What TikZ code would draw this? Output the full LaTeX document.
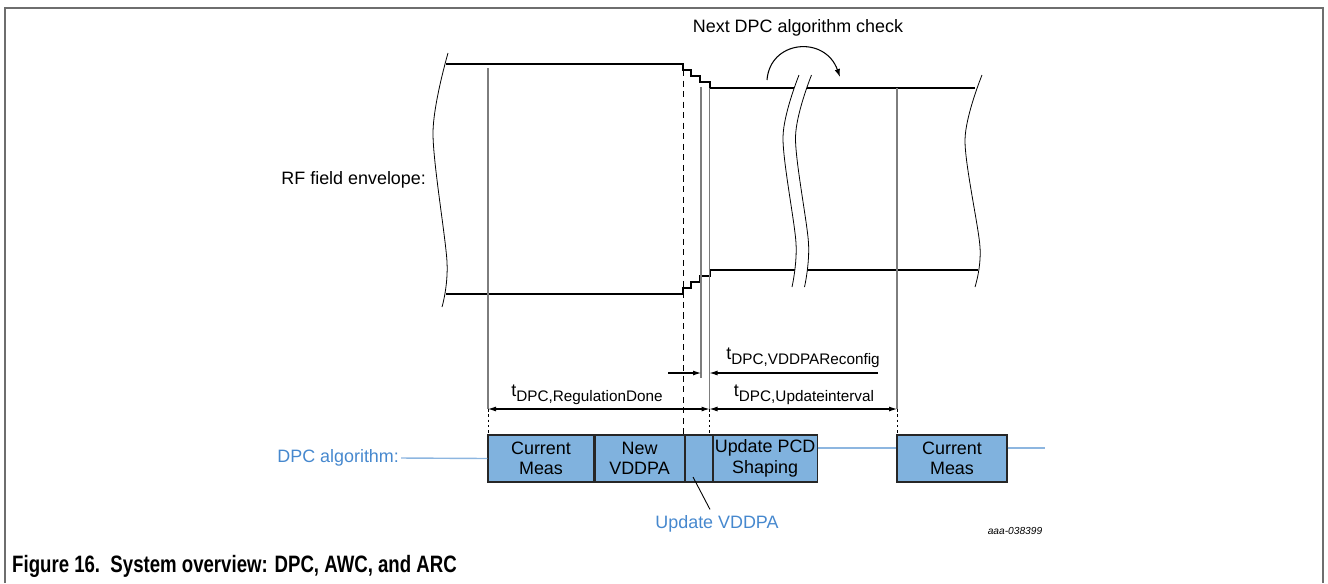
\documentclass[tikz,border=0pt]{standalone}
\usepackage{fontspec}
\setmainfont{Liberation Sans}
\usetikzlibrary{arrows.meta,positioning}
\definecolor{dpcblue}{RGB}{70,136,206}
\definecolor{boxblue}{RGB}{128,178,222}
\definecolor{lineblue}{RGB}{141,182,224}
\definecolor{framegray}{RGB}{110,110,110}
\definecolor{tgray}{RGB}{125,125,125}
\newcommand{\tlabel}[1]{t\raisebox{-2.8pt}{\fontsize{8.7}{10}\selectfont #1}}

\begin{document}
\begin{tikzpicture}[x=0.02cm,y=-0.02cm,font=\fontsize{10.2}{11.6}\selectfont,
  envl/.style={line width=1.1pt},
  tline/.style={tgray,line width=0.8pt},
  tdash/.style={line width=0.5pt,dash pattern=on 1.5pt off 1.5pt},
  guide/.style={line width=0.5pt,dash pattern=on 3.5pt off 2.5pt},
  brk/.style={line width=0.45pt},
  dim/.style={line width=0.6pt,-{Latex[length=1.6mm,width=1mm]}},
  dimboth/.style={line width=0.6pt,{Latex[length=1.6mm,width=1mm]}-{Latex[length=1.6mm,width=1mm]}},
  algobox/.style={draw=black!85,fill=boxblue,line width=0.6pt,minimum height=0.94cm,inner sep=0pt,align=center},
  algoline/.style={lineblue,line width=0.8pt}]
\useasboundingbox (0,0) rectangle (1328,583);
% frame
\draw[framegray,line width=1pt] (5,583) -- (5,8) -- (1323,8) -- (1323,583);

% RF field envelope
\draw[envl] (446,64) -- (683,64) -- (683,70) -- (691,70) -- (691,76) -- (700,76) -- (700,82) -- (710,82) -- (710,88) -- (975,88);
\draw[envl] (446,294) -- (683,294) -- (683,288) -- (691,288) -- (691,282) -- (700,282) -- (700,276) -- (710,276) -- (710,270) -- (978,270);
\node[anchor=east,inner xsep=1pt] (rflabel) at (428,180) {RF field envelope:};

% breaks
\draw[brk] plot[smooth] coordinates {(448,53) (433,133) (447,262) (442,307)};
\draw[brk] plot[smooth] coordinates {(982,75) (965,140) (980,247) (975,287)};
\fill[white] plot[smooth] coordinates {(799,75) (783,137) (796,243) (792,287)}
  -- plot[smooth] coordinates {(804.5,287) (808.5,243) (795.5,137) (811.5,75)} -- cycle;
\draw[brk] plot[smooth] coordinates {(799,75) (783,137) (796,243) (792,287)};
\draw[brk] plot[smooth] coordinates {(811.5,75) (795.5,137) (808.5,243) (804.5,287)};

% next check
\node (nextcheck) at (798,28) {Next DPC algorithm check};
\draw[line width=0.6pt,-{Latex[length=1.6mm,width=1.1mm]}] (767,80) .. controls (770,40) and (825,35) .. (840,77);

% time marks
\coordinate (regstart) at (488,409);
\coordinate (regend) at (709.5,409);
\coordinate (updend) at (897,409);
\draw[tline] (488,68) -- (regstart);
\draw[tline] (701,87) -- (701,378);
\draw[tline] (709.5,88) -- (regend);
\draw[tline] (897,88) -- (updend);
\draw[guide] (683,70) -- (683,435);
\foreach \x in {488,709.5,897}
  \draw[tdash] (\x,409) -- (\x,435);

% durations
\draw[dimboth] (regstart) -- (regend);
\node (reglabel) at (587,395) {\tlabel{DPC,RegulationDone}};
\draw[dimboth] (regend) -- (updend);
\node (updlabel) at (804,395) {\tlabel{DPC,Updateinterval}};
\coordinate (cfgleft) at (701,373);
\coordinate (cfgright) at (709.5,373);
\draw[dim] (668,373) -- (cfgleft);
\draw[dim] (878,373) -- (cfgright);
\node (cfglabel) at (803,358) {\tlabel{DPC,VDDPAReconfig}};

% DPC algorithm
\node[algobox,minimum width=2.12cm] (curmeas) at (541,458.5) {Current\\Meas};
\node[algobox,minimum width=1.78cm,right=0pt of curmeas] (newvddpa) {New\\VDDPA};
\node[algobox,minimum width=0.54cm,right=0pt of newvddpa] (updvddpa) {};
\node[algobox,minimum width=2.08cm,right=0pt of updvddpa] (updpcd) {Update PCD\\Shaping};
\node[algobox,minimum width=2.2cm] (nextmeas) at (952,458.5) {Current\\Meas};
\node[anchor=east,text=dpcblue,inner xsep=1pt] (dpclabel) at (401,458) {DPC algorithm:};
\draw[algoline] (dpclabel.east) -- (curmeas.west);
\draw[algoline] (updpcd.east |- 0,448) -- (nextmeas.west |- 0,448);
\draw[algoline] (nextmeas.east |- 0,448) -- (1045,448);
\node[text=dpcblue] (vddpalabel) at (717,524) {Update VDDPA};
\coordinate (vddpatip) at (693,477);
\draw[line width=0.5pt] (vddpatip) -- (vddpalabel.north -| 710,0);

\node[font=\fontsize{5.8}{7}\itshape\selectfont] (figid) at (1015,531) {aaa-038399};
\node[anchor=west] (caption) at (6,566) {\scalebox{0.785}[1]{\fontsize{13.5}{16}\bfseries\selectfont Figure 16.\ \ System overview: DPC, AWC, and ARC}};
\end{tikzpicture}
\end{document}
